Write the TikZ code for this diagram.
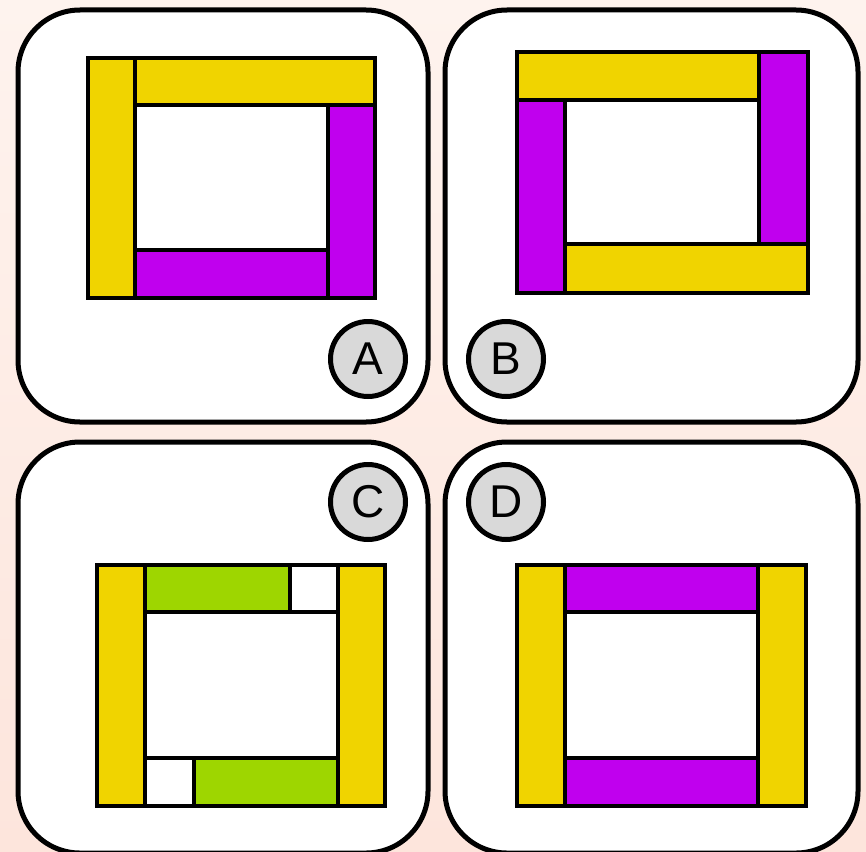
\documentclass[tikz,border=0pt]{standalone}
\usepackage{fontspec}
\setmainfont{Liberation Sans}
\definecolor{bgtop}{HTML}{FEF3EE}
\definecolor{bgbot}{HTML}{FDE5DC}
\definecolor{yel}{HTML}{F0D400}
\definecolor{pur}{HTML}{C000EE}
\definecolor{grn}{HTML}{9ED600}
\definecolor{lab}{HTML}{D9D9D9}
\tikzset{
  panel/.style={draw=black, fill=white, line width=5pt, rounded corners=62pt},
  piece/.style={draw=black, line width=4.4pt, line join=miter},
  ybar/.style={piece, fill=yel},
  pbar/.style={piece, fill=pur},
  gbar/.style={piece, fill=grn},
  wbar/.style={piece, fill=white},
  badge/.style={circle, draw=black, fill=lab, line width=5pt, minimum size=75pt, inner sep=0pt, font=\fontsize{46}{46}\selectfont}
}
\begin{document}
\begin{tikzpicture}[x=1pt, y=-1pt]
\useasboundingbox (0,0) rectangle (866,851);
\shade[top color=bgtop, bottom color=bgbot] (0,0) rectangle (866,851);
% Panels
\draw[panel] (18,10) rectangle (428,422);
\draw[panel] (445,10) rectangle (858,422);
\draw[panel] (18,442) rectangle (428,853);
\draw[panel] (445,442) rectangle (858,853);
% Panel A
\draw[ybar] (88,58) rectangle (135,298);
\draw[ybar] (135,58) rectangle (375,105);
\draw[pbar] (328,105) rectangle (375,298);
\draw[pbar] (135,250) rectangle (328,298);
\node[badge] (la) at (368,359) {A};
% Panel B
\draw[ybar] (517,52) rectangle (759,100);
\draw[pbar] (759,52) rectangle (808,244);
\draw[ybar] (565,244) rectangle (808,293);
\draw[pbar] (517,100) rectangle (565,293);
\node[badge] (lb) at (506,359) {B};
% Panel C
\draw[ybar] (97,565) rectangle (145,806);
\draw[gbar] (145,565) rectangle (290,612);
\draw[wbar] (290,565) rectangle (338,612);
\draw[ybar] (338,565) rectangle (385,806);
\draw[wbar] (145,758) rectangle (194,806);
\draw[gbar] (194,758) rectangle (338,806);
\node[badge] (lc) at (368,502) {C};
% Panel D
\draw[ybar] (517,565) rectangle (565,806);
\draw[pbar] (565,565) rectangle (758,612);
\draw[ybar] (758,565) rectangle (806,806);
\draw[pbar] (565,758) rectangle (758,806);
\node[badge] (ld) at (506,502) {D};
\end{tikzpicture}
\end{document}
